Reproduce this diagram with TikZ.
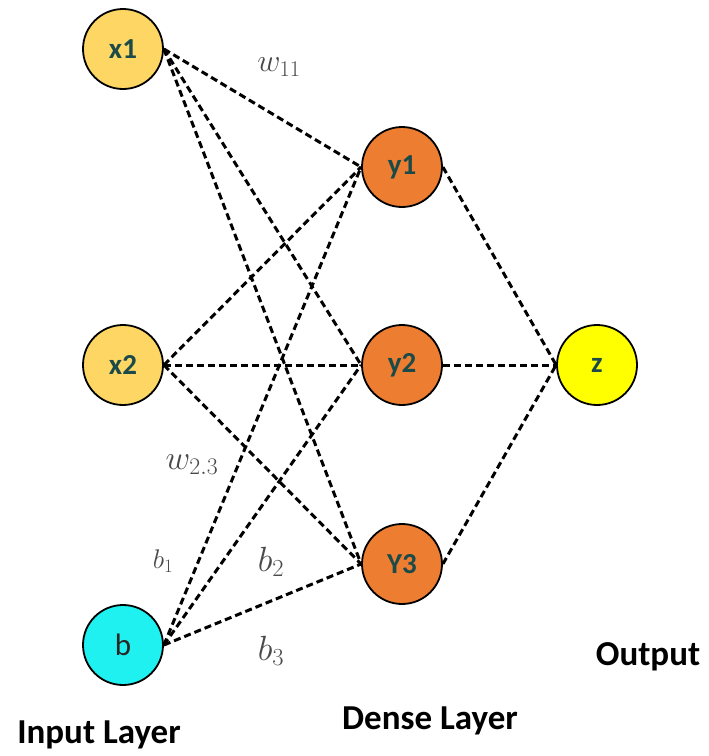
\RequirePackage{fix-cm}
\documentclass[tikz,border=0pt]{standalone}
\usepackage{fontspec}
\setmainfont{Carlito}
\definecolor{xfill}{HTML}{FDD663}
\definecolor{yfill}{HTML}{ED7D31}
\definecolor{zfill}{HTML}{FFFF00}
\definecolor{bfill}{HTML}{1FF0F0}
\definecolor{ntext}{HTML}{1C4A48}
\definecolor{mgray}{HTML}{4A4A4A}
\tikzset{
  neuron/.style={circle, draw=black, line width=1.8pt, minimum size=80pt, inner sep=0pt, font=\fontsize{29}{31}\selectfont\bfseries, text=ntext},
  conn/.style={line width=3pt, dash pattern=on 7pt off 4pt, black},
  wlab/.style={text=mgray, inner sep=0pt},
  layerlab/.style={font=\fontsize{35}{37}\selectfont\bfseries, inner sep=0pt}
}
\begin{document}
\begin{tikzpicture}[x=1pt,y=-1pt]
\useasboundingbox (0,0) rectangle (709,756);
\node[neuron, fill=xfill] (x1) at (123,49) {x1};
\node[neuron, fill=xfill] (x2) at (123,365) {x2};
\node[neuron, fill=bfill, font=\fontsize{31}{33}\selectfont, text=black!85] (b) at (123,645) {b};
\node[neuron, fill=yfill] (y1) at (402,167) {y1};
\node[neuron, fill=yfill] (y2) at (402,365) {y2};
\node[neuron, fill=yfill] (y3) at (402,564) {Y3};
\node[neuron, fill=zfill] (z) at (597,365) {z};
\foreach \s in {x1,x2,b}{
  \foreach \t in {y1,y2,y3}{
    \draw[conn] (\s.east) -- (\t.west);
  }
}
\foreach \s in {y1,y2,y3}{
  \draw[conn] (\s.east) -- (z.west);
}
\node[wlab, font=\fontsize{32}{34}\selectfont] (w11) at (279,67) {$w_{11}$};
\node[wlab, font=\fontsize{34}{36}\selectfont] (w23) at (192,465) {$w_{2.3}$};
\node[wlab, font=\fontsize{27}{29}\selectfont] (b1) at (163,561) {$b_1$};
\node[wlab, font=\fontsize{35}{37}\selectfont] (b2) at (271,562) {$b_2$};
\node[wlab, font=\fontsize{35}{37}\selectfont] (b3) at (271,651) {$b_3$};
\node[layerlab] (lin) at (99,735) {Input Layer};
\node[layerlab] (lde) at (430,721) {Dense Layer};
\node[layerlab] (lout) at (648,657) {Output};
\end{tikzpicture}
\end{document}
